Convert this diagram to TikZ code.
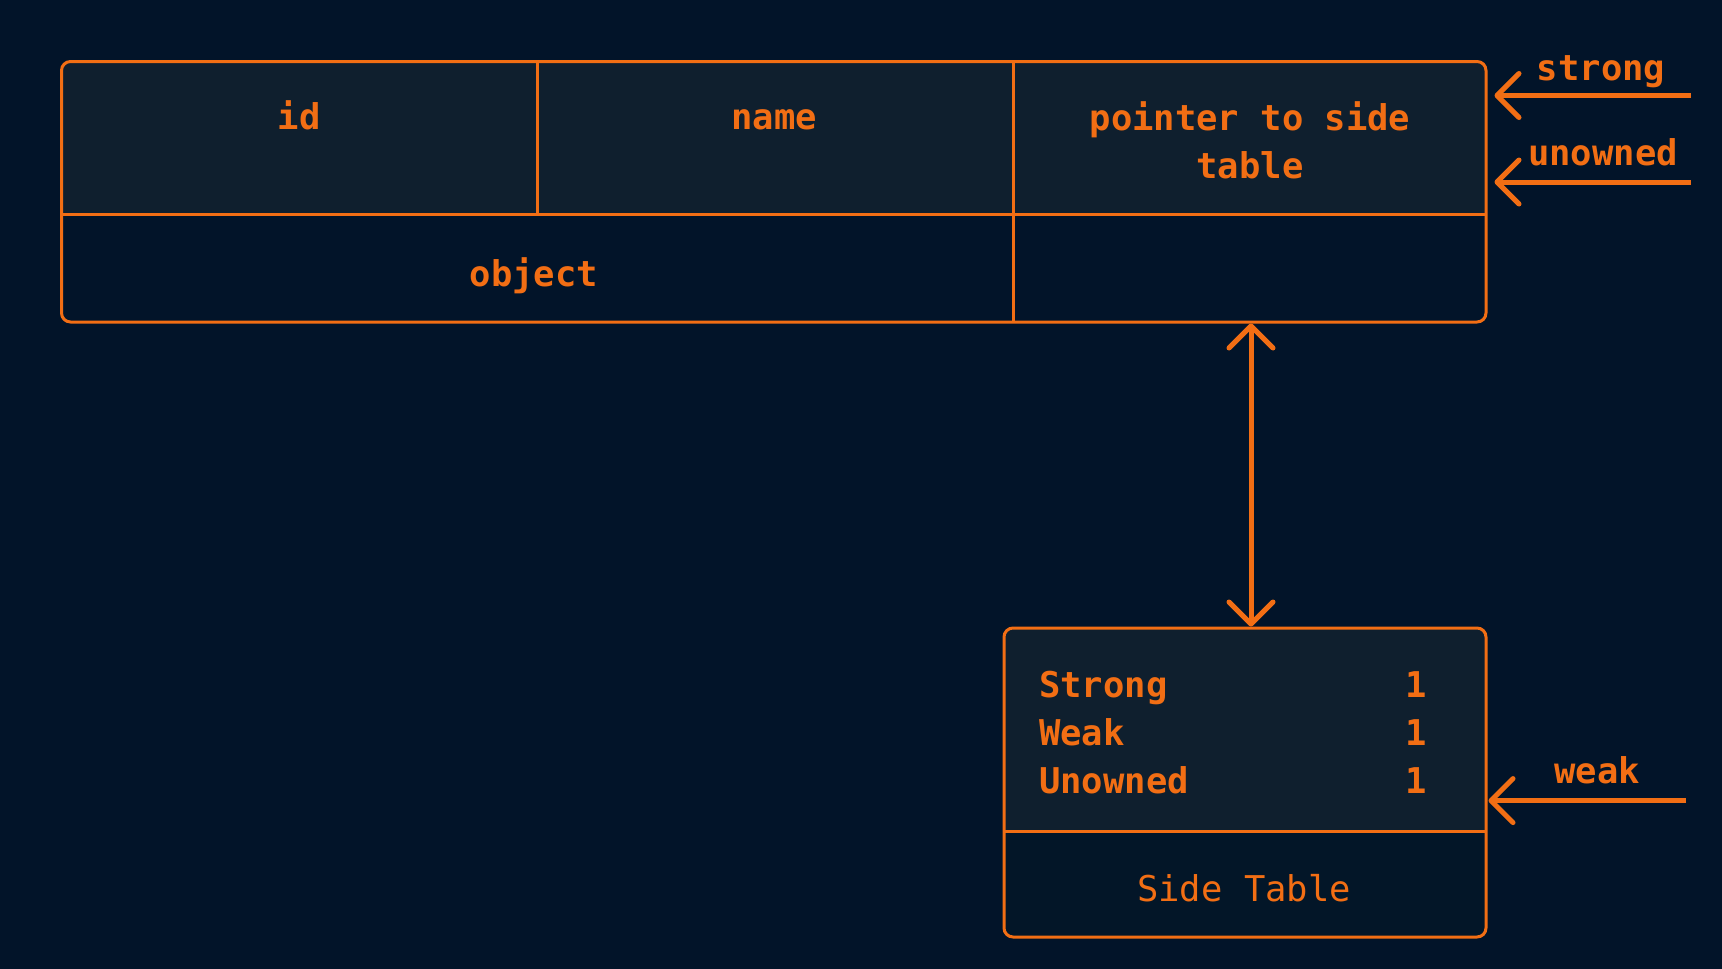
\documentclass[tikz,border=0pt]{standalone}
\usepackage{fontspec}
\setmonofont{DejaVu Sans Mono}
\usetikzlibrary{arrows.meta}
\definecolor{bg}{HTML}{021429}
\definecolor{hdr}{HTML}{0F1F2E}
\definecolor{low}{HTML}{031628}
\definecolor{org}{HTML}{F26E14}
\begin{document}
\begin{tikzpicture}[x=1pt,y=-1pt,
  frame/.style={draw=org, line width=3pt, rounded corners=9pt, inner sep=0pt},
  rule/.style={draw=org, line width=3pt},
  lbl/.style={text=org, font=\ttfamily\bfseries\fontsize{35.5}{48}\selectfont, inner sep=0pt, anchor=base},
  lite/.style={text=org, font=\ttfamily\fontsize{35.5}{48}\selectfont, inner sep=0pt, anchor=base},
  barb/.tip={Straight Barb[length=22pt,width=44pt,round]},
  arr/.style={draw=org, line width=5pt, -barb},
  dbl/.style={draw=org, line width=5pt, barb-barb}]
\fill[bg] (0,0) rectangle (1722,969);
\useasboundingbox (0,0) rectangle (1722,969);
% object table fills
\begin{scope}
  \clip[rounded corners=9pt] (61.5,61.5) rectangle (1486,322);
  \fill[hdr] (61.5,61.5) rectangle (1486,214);
\end{scope}
\node[frame, minimum width=1424.5pt, minimum height=260.5pt] (tbl) at (773.75,191.75) {};
\draw[rule] (61.5,214) -- (1486,214);
\draw[rule] (537,61.5) -- (537,214);
\draw[rule] (1013,61.5) -- (1013,322);
\node[lbl] (id) at (299,129.5) {id};
\node[lbl] (name) at (774,129.5) {name};
\node[lbl, anchor=center, align=center] (ptr) at (1250,140.5) {pointer to side\\table};
\node[lbl] (obj) at (534,286) {object};
% side table fills
\begin{scope}
  \clip[rounded corners=9pt] (1004,628) rectangle (1486,937);
  \fill[hdr] (1004,628) rectangle (1486,831);
  \fill[low] (1004,831) rectangle (1486,937);
\end{scope}
\node[frame, minimum width=482pt, minimum height=309pt] (st) at (1245,782.5) {};
\draw[rule] (1004,831) -- (1486,831);
\node[lbl, anchor=base west] (rs) at (1039,697) {Strong};
\node[lbl, anchor=base west] (rw) at (1039,745) {Weak};
\node[lbl, anchor=base west] (ru) at (1039,793) {Unowned};
\node[lbl] (vs) at (1416,697) {1};
\node[lbl] (vw) at (1416,745) {1};
\node[lbl] (vu) at (1416,793) {1};
\node[lite] (stl) at (1244,901) {Side Table};
% connectors
\coordinate (tblR) at ([xshift=7pt]tbl.east);
\coordinate (stR) at ([xshift=1pt]st.east);
\coordinate (sS) at (1691,95.5);
\coordinate (uS) at (1691,182);
\coordinate (wS) at (1686,800.6);
\coordinate (vx) at (1251,0);
\draw[arr] (sS) -- (tblR |- sS);
\draw[arr] (uS) -- (tblR |- uS);
\draw[arr] (wS) -- (stR |- wS);
\draw[dbl] (tbl.south -| vx) -- (st.north -| vx);
\node[lbl] (ls) at (1601,80) {strong};
\node[lbl] (lu) at (1603,165) {unowned};
\node[lbl] (lw) at (1597,783) {weak};
\end{tikzpicture}
\end{document}
